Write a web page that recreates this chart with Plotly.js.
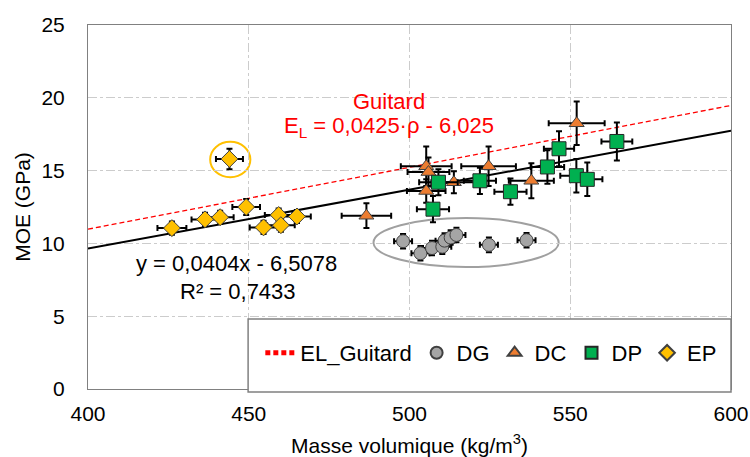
<!DOCTYPE html>
<html>
<head>
<meta charset="utf-8">
<script src="https://cdn.plot.ly/plotly-3.0.1.min.js"></script>
<style>html,body{margin:0;padding:0;background:#fff;}#chart{width:750px;height:457px;}</style>
</head>
<body>
<div id="chart"></div>
<script>
// Trend lines (end points)
const fitX = [400, 600];
const fitY = [9.65, 17.73];
const guitardX = [400, 600];
const guitardY = [10.975, 19.475];

// DG
const dgX  = [498.0, 503.4, 507.0, 510.2, 510.9, 512.8, 514.6, 524.7, 536.4];
const dgY  = [10.15, 9.32, 9.68, 9.77, 10.19, 10.40, 10.58, 9.90, 10.22];
const dgEx = [2.8, 2.8, 2.8, 2.8, 2.8, 2.8, 2.8, 2.8, 2.8];
const dgEy = [0.5, 0.5, 0.5, 0.5, 0.5, 0.5, 0.5, 0.5, 0.5];

// DC
const dcX  = [486.6, 505.2, 505.9, 505.2, 513.8, 524.6, 537.9, 552.0];
const dcY  = [11.9, 15.3, 14.9, 13.6, 14.2, 15.3, 14.3, 18.25];
const dcEx = [7.7, 7.9, 6.5, 6.0, 7.0, 8.5, 7.0, 8.7];
const dcEy = [0.85, 1.35, 1.0, 0.8, 0.75, 1.35, 1.2, 1.5];

// DP
const dpX  = [509.0, 507.3, 521.9, 531.4, 542.9, 546.5, 551.9, 555.3, 564.5];
const dpY  = [14.2, 12.35, 14.3, 13.55, 15.25, 16.5, 14.65, 14.4, 17.0];
const dpEx = [6.0, 5.0, 5.0, 5.0, 5.2, 4.7, 5.0, 4.7, 4.8];
const dpEy = [0.9, 0.9, 0.9, 0.9, 1.15, 1.2, 1.15, 1.15, 1.3];

// EP
const epX  = [426.1, 436.4, 441.1, 449.2, 444.0, 454.6, 459.3, 460.0, 465.0];
const epY  = [11.05, 11.65, 11.8, 12.5, 15.8, 11.1, 11.95, 11.25, 11.85];
const epEx = [4.5, 4.2, 4.2, 4.3, 4.2, 4.3, 4.3, 4.3, 4.3];
const epEy = [0.45, 0.45, 0.45, 0.55, 0.7, 0.45, 0.45, 0.45, 0.45];

const FONT = 'Liberation Sans, Arial, sans-serif';

function errs(ex, ey) {
  return {
    error_x: {type: 'data', array: ex, visible: true, color: '#000', thickness: 2, width: 3},
    error_y: {type: 'data', array: ey, visible: true, color: '#000', thickness: 2, width: 3}
  };
}

const traces = [
  {x: fitX, y: fitY, mode: 'lines', line: {color: '#000', width: 2}, showlegend: false, hoverinfo: 'skip'},
  {x: guitardX, y: guitardY, mode: 'lines', name: 'EL_Guitard', line: {color: '#FF0000', width: 1.3, dash: '5px,3px'}},
  Object.assign({x: dgX, y: dgY, mode: 'markers', name: 'DG',
    marker: {symbol: 'circle', size: 13, color: '#A5A5A5', line: {color: '#404040', width: 1}}}, errs(dgEx, dgEy)),
  Object.assign({x: dcX, y: dcY, mode: 'markers', name: 'DC',
    marker: {symbol: 'triangle-up', size: 13, color: '#ED7D31', line: {color: '#404040', width: 1}}}, errs(dcEx, dcEy)),
  Object.assign({x: dpX, y: dpY, mode: 'markers', name: 'DP',
    marker: {symbol: 'square', size: 14, color: '#00B050', line: {color: '#262626', width: 1}}}, errs(dpEx, dpEy)),
  Object.assign({x: epX, y: epY, mode: 'markers', name: 'EP',
    marker: {symbol: 'diamond', size: 13, color: '#FFC000', line: {color: '#404040', width: 1}}}, errs(epEx, epEy))
];

const layout = {
  width: 750, height: 457,
  margin: {l: 88, r: 19, t: 25, b: 68},
  paper_bgcolor: '#fff', plot_bgcolor: '#fff',
  font: {family: FONT, size: 21, color: '#000'},
  showlegend: true,
  legend: {orientation: 'h', x: 0.268, xanchor: 'left', y: 0.099, yanchor: 'middle', itemsizing: 'constant',
    bgcolor: 'rgba(0,0,0,0)', font: {family: FONT, size: 22, color: '#000'}, itemwidth: 30, traceorder: 'normal'},
  xaxis: {
    range: [400, 600], dtick: 50, tick0: 400,
    showgrid: true, gridcolor: '#CCCCCC', griddash: 'dashdot', gridwidth: 1,
    showline: true, linecolor: '#808080', linewidth: 1, mirror: true,
    zeroline: false, ticks: '', ticklabelstandoff: 6,
    tickfont: {family: FONT, size: 21, color: '#000'},
    title: {text: 'Masse volumique (kg/m<sup>3</sup>)', font: {family: FONT, size: 21, color: '#000'}, standoff: 16}
  },
  yaxis: {
    range: [0, 25], dtick: 5, tick0: 0,
    showgrid: true, gridcolor: '#CCCCCC', griddash: 'dashdot', gridwidth: 1,
    showline: true, linecolor: '#808080', linewidth: 1, mirror: true,
    zeroline: false, ticks: '', ticklabelstandoff: 18,
    tickfont: {family: FONT, size: 21, color: '#000'},
    title: {text: 'MOE (GPa)', font: {family: FONT, size: 21, color: '#000'}, standoff: 5}
  },
  shapes: [
    {type: 'circle', xref: 'x', yref: 'y', x0: 488.8, x1: 546.4, y0: 8.38, y1: 11.74,
      line: {color: '#A0A0A0', width: 2}, layer: 'below'},
    {type: 'circle', xref: 'x', yref: 'y', x0: 438.0, x1: 450.5, y0: 14.54, y1: 16.98,
      line: {color: '#FFC000', width: 2}, layer: 'below'},
    {type: 'rect', xref: 'paper', yref: 'paper', x0: 0.249, x1: 1.0, y0: -0.008, y1: 0.192,
      fillcolor: '#fff', line: {color: '#808080', width: 1.5}, layer: 'above'}
  ],
  annotations: [
    {x: 493.5, y: 19.78, xref: 'x', yref: 'y', text: 'Guitard', showarrow: false,
      font: {family: FONT, size: 22, color: '#FF0000'}},
    {x: 493.5, y: 18.0, xref: 'x', yref: 'y', text: 'E<sub>L</sub> = 0,0425·ρ - 6,025', showarrow: false,
      font: {family: FONT, size: 22, color: '#FF0000'}},
    {x: 446.3, y: 8.6, xref: 'x', yref: 'y', text: 'y = 0,0404x - 6,5078', showarrow: false,
      font: {family: FONT, size: 22, color: '#000'}},
    {x: 446.6, y: 6.7, xref: 'x', yref: 'y', text: 'R² = 0,7433', showarrow: false,
      font: {family: FONT, size: 22, color: '#000'}}
  ]
};

Plotly.newPlot('chart', traces, layout, {displayModeBar: false, staticPlot: true});
</script>
</body>
</html>
